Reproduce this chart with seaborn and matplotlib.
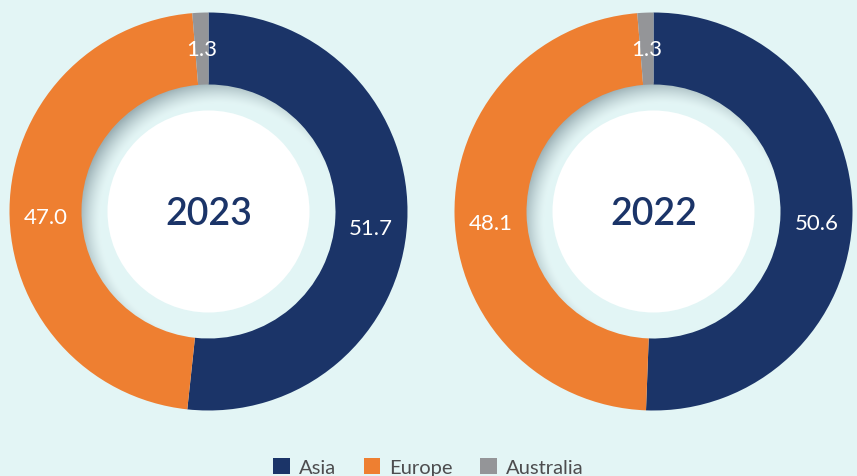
import numpy as np
import matplotlib
matplotlib.use("Agg")
import matplotlib.pyplot as plt
from matplotlib.patches import Circle, Patch
import seaborn as sns

# --- data -------------------------------------------------------------
regions = ["Asia", "Europe", "Australia"]
years = ["2023", "2022"]
share_2023 = [51.7, 47.0, 1.3]
share_2022 = [50.6, 48.1, 1.3]

# --- style ------------------------------------------------------------
sns.set_theme(style="white")
plt.rcParams["font.family"] = ["Lato", "DejaVu Sans"]

palette = sns.color_palette(["#1b3468", "#ee7f31", "#949598"])
bg = "#e3f5f5"
ring_base = np.array([0.890, 0.961, 0.961])
ring_shadow = np.array([0.61, 0.69, 0.71])

W, H = 857, 477
fig = plt.figure(figsize=(W / 100, H / 100), dpi=100, facecolor=bg)
ax = fig.add_axes([0, 0, 1, 1])
ax.set_facecolor(bg)

R_OUT, R_RING, R_WHITE = 199, 127, 101
LABEL_R = (R_OUT + R_RING) / 2
centers = [(208.5, H - 212.5), (653.5, H - 212.5)]


def shaded_ring(cx, cy):
    """Light ring inside the donut with a soft inner shadow at upper left."""
    pad = R_RING + 4
    n = 4 * pad
    xs = np.linspace(cx - pad, cx + pad, n)
    ys = np.linspace(cy - pad, cy + pad, n)
    X, Y = np.meshgrid(xs, ys)
    # shadow cast from the outer edge, offset toward lower right
    ox, oy = cx + 10, cy - 10
    d = np.hypot(X - ox, Y - oy)
    s = np.clip((d - (R_RING - 8)) / 22.0, 0, 1) ** 1.4
    img = ring_base[None, None, :] * (1 - s[..., None]) + ring_shadow[None, None, :] * s[..., None]
    r = np.hypot(X - cx, Y - cy)
    alpha = (r <= R_RING + 3).astype(float)
    rgba = np.dstack([img, alpha])
    ax.imshow(rgba, extent=(cx - pad, cx + pad, cy - pad, cy + pad),
              origin="lower", interpolation="bilinear", zorder=1)


for (cx, cy), year, vals in zip(centers, years, [share_2023, share_2022]):
    shaded_ring(cx, cy)
    wedges, texts, autotexts = ax.pie(
        vals,
        colors=palette,
        center=(cx, cy),
        radius=R_OUT,
        startangle=90,
        counterclock=False,
        autopct="%.1f",
        pctdistance=LABEL_R / R_OUT,
        wedgeprops=dict(width=R_OUT - R_RING, linewidth=0),
        textprops=dict(color="white", fontsize=16, fontweight="normal"),
        frame=True,
    )
    for w in wedges:
        w.set_zorder(2)
    for t in autotexts:
        x, y = t.get_position()
        # side labels sit a little below the wedge midline
        t.set_position((x, y - 8 * abs(x - cx) / LABEL_R))
        t.set_zorder(4)
    ax.add_patch(Circle((cx, cy), R_WHITE, facecolor="white", edgecolor="none", zorder=3))
    ax.text(cx, cy - 2, year, ha="center", va="center", fontsize=27,
            fontweight="semibold", color="#1b3468", zorder=4)

ax.set_xlim(0, W)
ax.set_ylim(0, H)
ax.set_aspect("equal")
ax.axis("off")

handles = [Patch(facecolor=c, edgecolor="none", label=l) for c, l in zip(palette, regions)]
leg = fig.legend(handles=handles, loc="center", bbox_to_anchor=(0.5, 1 - 468 / H),
                 ncol=3, frameon=False, fontsize=14.5, handlelength=0.84,
                 handleheight=0.82, handletextpad=0.45, columnspacing=1.35,
                 borderpad=0, borderaxespad=0)
for t in leg.get_texts():
    t.set_color("#4d4d4f")

fig.savefig("out.png", dpi=100, facecolor=bg)
